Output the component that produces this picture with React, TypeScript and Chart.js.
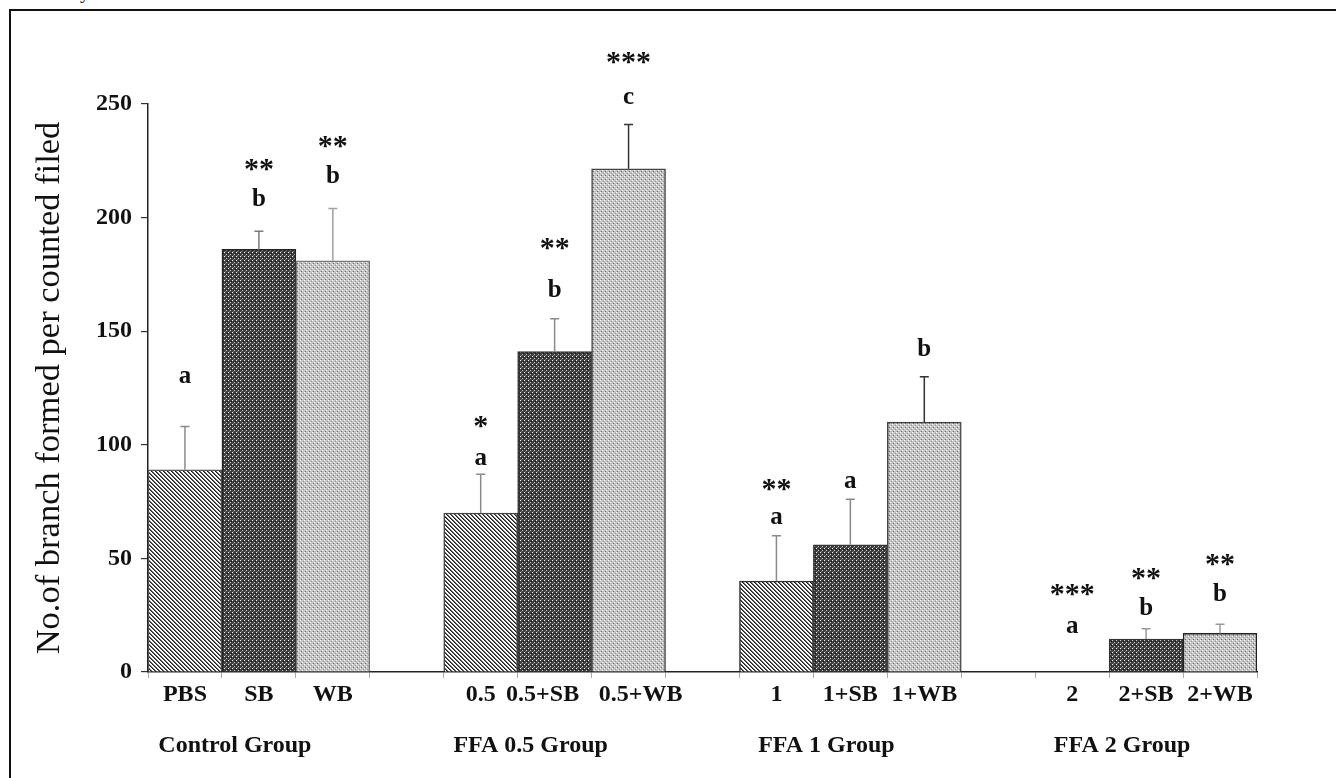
import React, { useEffect, useRef } from "react";
import { Chart, registerables } from "chart.js";

Chart.register(...registerables);

// ---------- data ----------
const categories = ["PBS", "SB", "WB", "", "0.5", "0.5+SB    ", "    0.5+WB", "", "1", "1+SB", "1+WB", "", "2", "2+SB", "2+WB"];
const groupLabels = ["", "Control Group", "", "", "", "FFA 0.5 Group", "", "", "", "FFA 1 Group", "", "", "", "FFA 2 Group", ""];
const values = [89, 186, 181, null, 70, 141, 221.5, null, 40, 56, 110, null, 0, 14.5, 17];
const errorTops = [108, 194, 204, null, 87, 155.5, 241, null, 60, 76, 130, null, null, 19, 21];
const letters = ["a", "b", "b", "", "a", "b", "c", "", "a", "a", "b", "", "a", "b", "b"];
const letterAt = [130, 208, 218, null, 94, 168, 253, null, 68, 84, 142, null, 20, 28, 34];
const stars = ["", "**", "**", "", "*", "**", "***", "", "**", "", "", "", "***", "**", "**"];
const starAt = [null, 224, 234, null, 111, 189, 271, null, 83, null, null, null, 37, 44, 50];
const patternKinds = [0, 1, 2, -1, 0, 1, 2, -1, 0, 1, 2, -1, 0, 1, 2];
const errorColors = ["#8a8a8a", "#7a7a7a", "#a0a0a0", "", "#8a8a8a", "#8a8a8a", "#333333", "", "#8a8a8a", "#8a8a8a", "#333333", "", "", "#999999", "#999999"];
const borderColors = ["#555555", "#222222", "#777777", "#777777", "#444444", "#333333", "#444444", "#777777", "#333333", "#333333", "#444444", "#777777", "#333333", "#333333", "#222222"];
const yTitle = "No.of branch formed per counted filed";

const SERIF = "'Liberation Serif', 'Times New Roman', serif";

function makePattern(kind: number): CanvasPattern | string {
  const c = document.createElement("canvas");
  c.width = 4;
  c.height = 4;
  const g = c.getContext("2d")!;
  const px = (x: number, y: number, col: string) => {
    g.fillStyle = col;
    g.fillRect(x, y, 1, 1);
  };
  if (kind === 0) {
    g.fillStyle = "#ffffff";
    g.fillRect(0, 0, 4, 4);
    for (let i = 0; i < 4; i++) {
      px(i, i, "#1e1e1e");
      px((i + 1) % 4, i, "#6a6a6a");
    }
  } else if (kind === 1) {
    g.fillStyle = "#3c3c3c";
    g.fillRect(0, 0, 4, 4);
    px(0, 0, "#ffffff");
    px(2, 2, "#c8c8c8");
    px(1, 3, "#777777");
    px(3, 1, "#1a1a1a");
  } else {
    g.fillStyle = "#c4c4c4";
    g.fillRect(0, 0, 4, 4);
    px(0, 0, "#ffffff");
    px(2, 2, "#f4f4f4");
    px(1, 3, "#666666");
    px(3, 1, "#999999");
  }
  const p = g.createPattern(c, "repeat");
  return p || "#999";
}

const annotationPlugin = {
  id: "annotations",
  afterDatasetsDraw(chart: any) {
    const ctx = chart.ctx as CanvasRenderingContext2D;
    const xs = chart.scales.x;
    const ys = chart.scales.y;
    ctx.save();
    for (let i = 0; i < categories.length; i++) {
      const top = errorTops[i];
      const v = values[i];
      if (top == null || v == null) continue;
      const x = xs.getPixelForValue(i);
      const y0 = ys.getPixelForValue(v);
      const y1 = ys.getPixelForValue(top);
      ctx.strokeStyle = errorColors[i];
      ctx.lineWidth = 1.5;
      ctx.beginPath();
      ctx.moveTo(x, y0);
      ctx.lineTo(x, y1);
      ctx.moveTo(x - 4.5, y1);
      ctx.lineTo(x + 4.5, y1);
      ctx.stroke();
    }
    ctx.restore();
  },
  afterDraw(chart: any) {
    const ctx = chart.ctx as CanvasRenderingContext2D;
    const xs = chart.scales.x;
    const ys = chart.scales.y;
    ctx.save();
    ctx.fillStyle = "#111111";
    ctx.textAlign = "center";
    ctx.textBaseline = "middle";
    for (let i = 0; i < categories.length; i++) {
      const x = xs.getPixelForValue(i);
      if (letters[i] && letterAt[i] != null) {
        ctx.font = `bold 25px ${SERIF}`;
        ctx.fillText(letters[i], x, ys.getPixelForValue(letterAt[i] as number));
      }
      if (stars[i] && starAt[i] != null) {
        ctx.font = `bold 30px ${SERIF}`;
        ctx.fillText(stars[i], x, ys.getPixelForValue(starAt[i] as number) + 7);
      }
    }
    ctx.restore();
  },
};

export default function App() {
  const canvasRef = useRef<HTMLCanvasElement | null>(null);

  useEffect(() => {
    const canvas = canvasRef.current;
    if (!canvas) return;
    const bg = patternKinds.map((k) => (k < 0 ? "rgba(0,0,0,0)" : makePattern(k)));
    const chart = new Chart(canvas, {
      type: "bar",
      data: {
        labels: categories,
        datasets: [
          {
            data: values as any,
            backgroundColor: bg as any,
            borderColor: borderColors,
            borderWidth: 1.5,
            barPercentage: 1,
            categoryPercentage: 1,
          },
        ],
      },
      options: {
        responsive: false,
        animation: false,
        devicePixelRatio: 1,
        layout: { padding: { left: 25, right: 79, top: 104, bottom: 11 } },
        plugins: {
          legend: { display: false },
          tooltip: { enabled: false },
          title: { display: false },
        },
        scales: {
          y: {
            min: 0,
            max: 250,
            afterFit: (s: any) => {
              s.width = 123;
            },
            ticks: {
              stepSize: 50,
              color: "#111111",
              padding: 9,
              font: { family: SERIF, size: 24, weight: "bold" },
            },
            grid: {
              drawOnChartArea: false,
              drawTicks: true,
              tickLength: 7,
              color: "#333333",
              lineWidth: 1.2,
            },
            border: { display: true, color: "#222222", width: 1.5 },
            title: {
              display: true,
              text: yTitle,
              color: "#111111",
              font: { family: SERIF, size: 34.5, weight: "normal" },
              padding: { top: 4, bottom: 0 },
            },
          },
          x: {
            afterFit: (s: any) => {
              s.height = 45;
            },
            ticks: {
              autoSkip: false,
              maxRotation: 0,
              minRotation: 0,
              color: "#111111",
              padding: 2,
              font: { family: SERIF, size: 24, weight: "bold" },
            },
            grid: {
              offset: true,
              drawOnChartArea: false,
              drawTicks: true,
              tickLength: 6,
              color: "#aaaaaa",
              lineWidth: 1,
            },
            border: { display: true, color: "#222222", width: 1.5 },
          },
          x2: {
            type: "category",
            labels: groupLabels,
            position: "bottom",
            weight: 1,
            afterFit: (s: any) => {
              s.height = 50;
            },
            ticks: {
              autoSkip: false,
              maxRotation: 0,
              minRotation: 0,
              labelOffset: -24,
              padding: 14,
              color: "#111111",
              font: { family: SERIF, size: 24, weight: "bold" },
            },
            grid: { display: false, drawTicks: false },
            border: { display: false },
          },
        } as any,
      },
      plugins: [annotationPlugin],
    });
    return () => chart.destroy();
  }, []);

  return (
    <div
      style={{
        position: "fixed",
        left: 0,
        top: 0,
        width: 1336,
        height: 778,
        background: "#ffffff",
        overflow: "hidden",
      }}
    >
      <span
        style={{
          position: "absolute",
          left: 80,
          top: -19,
          fontFamily: SERIF,
          fontSize: 20,
          lineHeight: "20px",
          color: "#222",
        }}
      >
        y
      </span>
      <div
        style={{
          position: "absolute",
          left: 9,
          top: 9,
          width: 1400,
          height: 800,
          borderTop: "2px solid #111",
          borderLeft: "2px solid #111",
          boxSizing: "border-box",
        }}
      />
      <canvas
        ref={canvasRef}
        width={1336}
        height={778}
        style={{ position: "absolute", left: 0, top: 0, width: 1336, height: 778 }}
      />
    </div>
  );
}
